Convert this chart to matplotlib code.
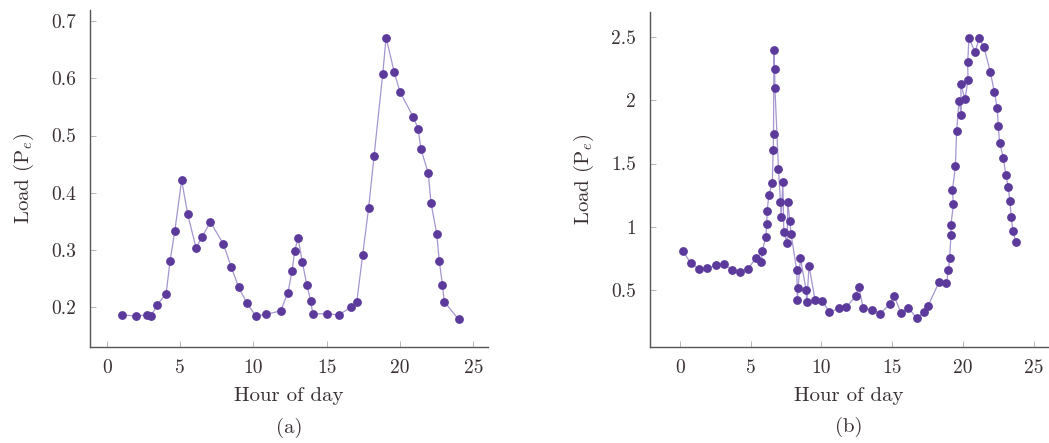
import matplotlib.pyplot as plt

plt.rcParams['font.family'] = ['cmr10']
plt.rcParams['mathtext.fontset'] = 'cm'
plt.rcParams['axes.formatter.use_mathtext'] = True

# panel (a)
hours_a = [1.07, 1.98, 2.73, 3.02, 3.43, 4.05, 4.32, 4.64, 5.11, 5.52, 6.09, 6.5,
           7.07, 7.95, 8.5, 9.0, 9.55, 10.16, 10.86, 11.86, 12.36, 12.64, 12.82,
           13.05, 13.34, 13.64, 13.91, 14.05, 15.05, 15.82, 16.64, 17.05, 17.45,
           17.86, 18.23, 18.82, 19.05, 19.61, 20.0, 20.91, 21.23, 21.43, 21.93,
           22.11, 22.5, 22.68, 22.89, 23.02, 24.0]
load_a = [0.187, 0.185, 0.187, 0.185, 0.204, 0.224, 0.281, 0.333, 0.422, 0.363,
          0.304, 0.323, 0.349, 0.311, 0.270, 0.235, 0.208, 0.185, 0.188, 0.194,
          0.226, 0.264, 0.299, 0.321, 0.279, 0.240, 0.212, 0.189, 0.189, 0.187,
          0.200, 0.209, 0.291, 0.374, 0.464, 0.607, 0.671, 0.610, 0.576, 0.532,
          0.512, 0.476, 0.434, 0.383, 0.329, 0.281, 0.240, 0.210, 0.179]

# panel (b)
hours_b = [0.23, 0.77, 1.34, 1.95, 2.54, 3.12, 3.69, 4.27, 4.84, 5.35, 5.77, 5.82,
           6.08, 6.15, 6.17, 6.29, 6.53, 6.60, 6.62, 6.65, 6.70, 6.72, 6.97, 7.11,
           7.16, 7.28, 7.35, 7.58, 7.63, 7.77, 7.86, 8.26, 8.31, 8.36, 8.52, 8.92,
           8.97, 9.13, 9.55, 10.07, 10.56, 11.24, 11.76, 12.44, 12.63, 12.96,
           13.57, 14.15, 14.84, 15.14, 15.63, 16.15, 16.74, 17.21, 17.54, 18.31,
           18.83, 18.97, 19.06, 19.15, 19.15, 19.32, 19.25, 19.46, 19.55, 19.72,
           19.88, 19.84, 20.14, 20.35, 20.33, 20.42, 20.85, 21.13, 21.48, 21.92,
           22.21, 22.42, 22.49, 22.58, 22.84, 23.03, 23.19, 23.31, 23.40, 23.52,
           23.73]
load_b = [0.805, 0.712, 0.667, 0.670, 0.693, 0.701, 0.659, 0.643, 0.667, 0.749,
          0.722, 0.807, 0.921, 1.025, 1.125, 1.247, 1.345, 1.608, 1.737, 2.403,
          2.249, 2.098, 1.457, 1.197, 1.078, 1.353, 0.956, 0.871, 1.197, 1.048,
          0.942, 0.654, 0.420, 0.516, 0.749, 0.500, 0.400, 0.691, 0.420, 0.415,
          0.322, 0.352, 0.362, 0.452, 0.526, 0.352, 0.341, 0.312, 0.386, 0.450,
          0.315, 0.354, 0.275, 0.322, 0.375, 0.561, 0.550, 0.656, 0.754, 0.937,
          1.017, 1.176, 1.287, 1.478, 1.759, 1.997, 1.888, 2.130, 2.010, 2.159,
          2.302, 2.493, 2.381, 2.493, 2.421, 2.228, 2.069, 1.936, 1.798, 1.666,
          1.547, 1.406, 1.313, 1.205, 1.078, 0.966, 0.882]

xticks = [0, 5, 10, 15, 20, 25]
yticks_a = [0.2, 0.3, 0.4, 0.5, 0.6, 0.7]
yticks_b = [0.5, 1, 1.5, 2, 2.5]
yticklabels_b = ['0.5', '1', '1.5', '2', '2.5']

W, H = 1049, 443
fig = plt.figure(figsize=(W / 100, H / 100), dpi=100)
ax_a = fig.add_axes([90 / W, 1 - 347 / H, 398 / W, 337 / H])
ax_b = fig.add_axes([650 / W, 1 - 347 / H, 398 / W, 335 / H])

line_c = '#a596d0'
mark_c = '#5b3a9c'
text_c = '#3a3232'

panels = [(ax_a, hours_a, load_a, yticks_a, None, (-1.14, 26), (0.131, 0.719), '(a)'),
          (ax_b, hours_b, load_b, yticks_b, yticklabels_b, (-2.1, 26), (0.047, 2.70), '(b)')]

for ax, x, y, yt, ytl, xl, yl, tag in panels:
    ax.plot(x, y, '-', color=line_c, lw=0.9, zorder=2)
    ax.plot(x, y, 'o', color=mark_c, ms=5.3, mec=mark_c, zorder=3)
    ax.set_xlim(*xl)
    ax.set_ylim(*yl)
    ax.set_xticks(xticks)
    ax.set_xticklabels([str(t) for t in xticks])
    ax.set_yticks(yt)
    if ytl is not None:
        ax.set_yticklabels(ytl)
    else:
        ax.set_yticklabels([f'{t:.1f}' for t in yt])
    for s in ['top', 'right']:
        ax.spines[s].set_visible(False)
    for s in ['left', 'bottom']:
        ax.spines[s].set_color('#555555')
        ax.spines[s].set_linewidth(1.0)
    ax.tick_params(direction='in', length=4, width=0.6, color='#aaaaaa',
                   labelsize=14, labelcolor=text_c)
    ax.tick_params(axis='x', pad=9)
    ax.tick_params(axis='y', pad=10)
    ax.set_xlabel('Hour of day', fontsize=15, color=text_c, labelpad=7)
    ax.set_ylabel('Load (P$_e$)', fontsize=15, color=text_c, labelpad=11)
    ax.text(0.5, -0.24, tag, transform=ax.transAxes, ha='center', va='center',
            fontsize=15, color=text_c)

fig.savefig('out.png', dpi=100)
